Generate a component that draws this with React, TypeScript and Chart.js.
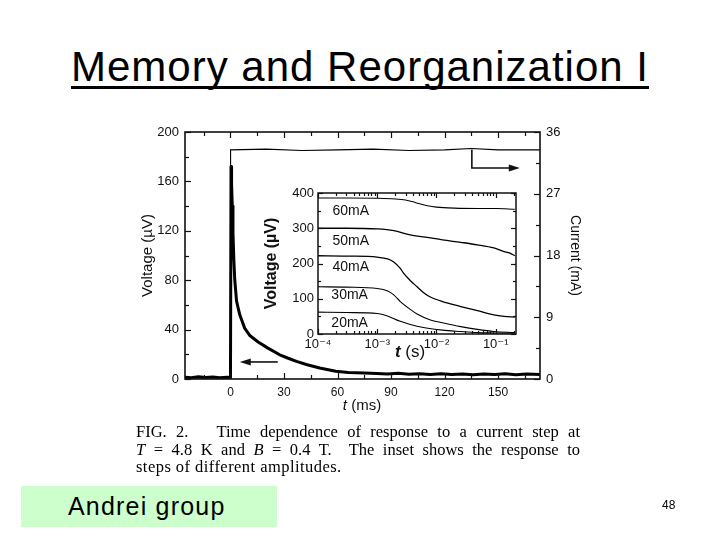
import React, { useEffect, useRef } from "react";
import { Chart, registerables } from "chart.js";

Chart.register(...registerables);

// ---------- main figure data ----------
const mainTimeMs = [
  -25.5, -22, -18, -14, -10, -6, -2, -0.2,
  0, 0.3, 0.6, 1.0, 1.4, 1.9, 2.4, 3.4, 5.2, 8, 11, 15.5, 21, 27.6, 32, 37, 43, 50, 59, 66, 75,
  82, 88, 94, 100, 106, 112, 118, 124, 130, 136, 142, 148, 154, 160, 166, 173.5,
];
const mainVoltageUV = [
  1.5, 1.0, 1.8, 1.2, 1.6, 1.0, 1.5, 1.2,
  1.5, 172, 158, 140, 118, 96, 80, 63, 52, 41, 35, 30, 25, 19.6, 17, 14.3, 11.5, 8.9, 6.2, 5.3, 4.8,
  4.4, 4.0, 4.6, 3.8, 4.3, 3.7, 4.2, 3.6, 4.1, 3.5, 4.0, 3.6, 4.2, 3.5, 4.0, 3.7,
];
const currentTimeMs = [-25.5, -0.1, 0, 0.1, 20, 40, 60, 80, 100, 120, 135, 150, 173.5];
const currentMA = [0, 0, 0, 33.4, 33.5, 33.3, 33.4, 33.5, 33.3, 33.4, 33.6, 33.4, 33.4];

const mainXMajor = [0, 30, 60, 90, 120, 150];
const mainXMinor = [-15, 15, 45, 75, 105, 135, 165];
const mainYMajor = [0, 40, 80, 120, 160, 200];
const mainYMinor = [20, 60, 100, 140, 180];
const mainY1Major = [0, 9, 18, 27, 36];
const mainY1Minor = [4.5, 13.5, 22.5, 31.5];

// ---------- inset data (t in seconds, V in µV) ----------
const t60 = [1e-4, 3e-4, 1e-3, 2e-3, 3e-3, 4e-3, 5e-3, 7e-3, 1e-2, 2e-2, 5e-2, 0.1, 0.21];
const v60 = [386, 386, 385, 383, 380, 375, 370, 364, 360, 357, 356, 356, 354];
const t50 = [1e-4, 3e-4, 1e-3, 1.9e-3, 3.6e-3, 6.5e-3, 1.26e-2, 2.57e-2, 4.9e-2, 9.3e-2, 1.38e-1, 1.7e-1, 2.1e-1];
const v50 = [300, 300, 298, 293, 281, 275, 267, 260, 253, 244, 234, 230, 222];
const t40 = [1e-4, 3e-4, 1e-3, 1.5e-3, 1.9e-3, 2.45e-3, 2.8e-3, 3.6e-3, 4.7e-3, 6e-3, 7.9e-3, 1.26e-2, 2.57e-2, 4.9e-2, 9.3e-2, 1.38e-1, 2.1e-1];
const v40 = [222, 221, 218, 213, 204, 186, 172, 152, 134, 118, 105, 92, 78, 66, 54, 50, 48];
const t30 = [1e-4, 3e-4, 1e-3, 1.5e-3, 1.9e-3, 2.45e-3, 3.6e-3, 4.7e-3, 7.9e-3, 1.26e-2, 2.57e-2, 4.9e-2, 9.3e-2, 2.1e-1];
const v30 = [134, 133, 129, 122, 111, 92, 70, 57, 40, 32, 21, 13, 7, 4];
const t20 = [1e-4, 3e-4, 1e-3, 1.45e-3, 2.45e-3, 4.7e-3, 1.26e-2, 2.57e-2, 4.9e-2, 9.3e-2, 2.1e-1];
const v20 = [62, 61, 58, 52, 36, 22, 11, 7, 4, 3, 2];

const insetSeriesNames = ["60mA", "50mA", "40mA", "30mA", "20mA"];
const insetXTicks = [1e-4, 1e-3, 1e-2, 1e-1];
const insetXTickLabels = ["10\u207B\u2074", "10\u207B\u00B3", "10\u207B\u00B2", "10\u207B\u00B9"];
const insetXMinor = [
  2e-4, 3e-4, 4e-4, 5e-4, 6e-4, 7e-4, 8e-4, 9e-4,
  2e-3, 3e-3, 4e-3, 5e-3, 6e-3, 7e-3, 8e-3, 9e-3,
  2e-2, 3e-2, 4e-2, 5e-2, 6e-2, 7e-2, 8e-2, 9e-2, 0.2,
];
const insetYMajor = [0, 100, 200, 300, 400];
const insetYMinor = [50, 150, 250, 350];

const FONT = "'Liberation Sans', Arial, 'DejaVu Sans', sans-serif";
const INK = "#111";

const zip = (xs: number[], ys: number[]) => xs.map((x, i) => ({ x, y: ys[i] }));

type TickSpec = { scale: string; side: "left" | "right" | "top" | "bottom"; major: number[]; minor: number[] };

function inwardTicks(specs: TickSpec[], majorLen: number, minorLen: number, frameWidth: number) {
  return {
    id: "inwardTicks",
    afterDatasetsDraw(chart: any) {
      const { ctx, chartArea: a } = chart;
      ctx.save();
      ctx.strokeStyle = INK;
      ctx.lineWidth = frameWidth;
      ctx.strokeRect(a.left, a.top, a.right - a.left, a.bottom - a.top);
      ctx.lineWidth = 1.2;
      for (const s of specs) {
        const sc = chart.scales[s.scale];
        const draw = (v: number, len: number) => {
          const p = Math.round(sc.getPixelForValue(v)) + 0.5;
          ctx.beginPath();
          if (s.side === "bottom") { ctx.moveTo(p, a.bottom); ctx.lineTo(p, a.bottom - len); }
          if (s.side === "top") { ctx.moveTo(p, a.top); ctx.lineTo(p, a.top + len); }
          if (s.side === "left") { ctx.moveTo(a.left, p); ctx.lineTo(a.left + len, p); }
          if (s.side === "right") { ctx.moveTo(a.right, p); ctx.lineTo(a.right - len, p); }
          ctx.stroke();
        };
        s.major.forEach((v) => draw(v, majorLen));
        s.minor.forEach((v) => draw(v, minorLen));
      }
      ctx.restore();
    },
  };
}

function arrowHead(ctx: CanvasRenderingContext2D, x: number, y: number, dir: number) {
  ctx.beginPath();
  ctx.moveTo(x, y);
  ctx.lineTo(x - dir * 11, y - 3.5);
  ctx.lineTo(x - dir * 11, y + 3.5);
  ctx.closePath();
  ctx.fill();
}

const mainArrows = {
  id: "mainArrows",
  afterDatasetsDraw(chart: any) {
    const { ctx } = chart;
    const x = chart.scales.x, y = chart.scales.y, y1 = chart.scales.y1;
    ctx.save();
    ctx.strokeStyle = INK;
    ctx.fillStyle = INK;
    ctx.lineWidth = 1.6;
    // arrow pointing to the voltage axis (left)
    const ly = y.getPixelForValue(13.8);
    const lx0 = x.getPixelForValue(26.5), lx1 = x.getPixelForValue(5.2);
    ctx.beginPath(); ctx.moveTo(lx0, ly); ctx.lineTo(lx1 + 8, ly); ctx.stroke();
    arrowHead(ctx, lx1, ly, -1);
    // arrow pointing to the current axis (right)
    const rx0 = x.getPixelForValue(135.3), rx1 = x.getPixelForValue(162.2);
    const ry0 = y1.getPixelForValue(33.4), ry1 = y1.getPixelForValue(30.75);
    ctx.beginPath(); ctx.moveTo(rx0, ry0); ctx.lineTo(rx0, ry1); ctx.lineTo(rx1 - 8, ry1); ctx.stroke();
    arrowHead(ctx, rx1, ry1, 1);
    ctx.restore();
  },
};

const insetLabelAt = [
  { x: 1.75e-4, y: 349 },
  { x: 1.75e-4, y: 264 },
  { x: 1.75e-4, y: 190 },
  { x: 1.68e-4, y: 111 },
  { x: 1.68e-4, y: 31 },
];

const insetLabels = {
  id: "insetLabels",
  afterDatasetsDraw(chart: any) {
    const { ctx } = chart;
    const x = chart.scales.x, y = chart.scales.y;
    ctx.save();
    ctx.fillStyle = INK;
    ctx.font = `14px ${FONT}`;
    ctx.textBaseline = "middle";
    ctx.textAlign = "left";
    insetSeriesNames.forEach((name, i) => {
      ctx.fillText(name, x.getPixelForValue(insetLabelAt[i].x), y.getPixelForValue(insetLabelAt[i].y));
    });
    ctx.restore();
  },
};

function MainChart() {
  const ref = useRef<HTMLCanvasElement>(null);
  useEffect(() => {
    const chart = new Chart(ref.current!, {
      type: "line",
      data: {
        datasets: [
          {
            data: zip(mainTimeMs, mainVoltageUV),
            yAxisID: "y",
            borderColor: "#000",
            borderWidth: 3,
            borderJoinStyle: "round",
            pointRadius: 0,
            tension: 0,
          },
          {
            data: zip(currentTimeMs, currentMA),
            yAxisID: "y1",
            borderColor: "#000",
            borderWidth: 1.1,
            pointRadius: 0,
            tension: 0,
          },
        ],
      },
      options: {
        animation: false,
        responsive: false,
        parsing: false,
        normalized: true,
        layout: { padding: { left: 135, right: 133, top: 132, bottom: 123 } },
        plugins: { legend: { display: false }, tooltip: { enabled: false } },
        scales: {
          x: {
            type: "linear",
            min: -25.5,
            max: 173.5,
            grid: { display: false, drawTicks: false },
            border: { display: false },
            ticks: { font: { size: 12, family: FONT }, color: INK, padding: 6, autoSkip: false, maxRotation: 0 },
            afterBuildTicks: (s: any) => { s.ticks = mainXMajor.map((v) => ({ value: v })); },
            afterFit: (s: any) => { s.height = 38; },
          },
          y: {
            position: "left",
            min: 0,
            max: 200,
            grid: { display: false, drawTicks: false },
            border: { display: false },
            ticks: { stepSize: 40, font: { size: 13, family: FONT }, color: INK, padding: 6 },
            title: { display: true, text: "Voltage (\u00B5V)", font: { size: 15, family: FONT }, color: INK, padding: { top: 4, bottom: 4 } },
            afterFit: (s: any) => { s.width = 50; },
          },
          y1: {
            position: "right",
            min: 0,
            max: 36,
            grid: { display: false, drawTicks: false },
            border: { display: false },
            ticks: { stepSize: 9, font: { size: 13, family: FONT }, color: INK, padding: 6 },
            title: { display: true, text: "Current (mA)", font: { size: 14, family: FONT }, color: INK, padding: { top: 4, bottom: 4 } },
            afterFit: (s: any) => { s.width = 47; },
          },
        },
      } as any,
      plugins: [
        inwardTicks(
          [
            { scale: "x", side: "bottom", major: mainXMajor, minor: mainXMinor },
            { scale: "x", side: "top", major: mainXMajor, minor: mainXMinor },
            { scale: "y", side: "left", major: mainYMajor, minor: mainYMinor },
            { scale: "y1", side: "right", major: mainY1Major, minor: mainY1Minor },
          ],
          6,
          4,
          1.6
        ),
        mainArrows,
      ],
    });
    return () => chart.destroy();
  }, []);
  return <canvas ref={ref} width={720} height={540} style={{ position: "absolute", left: 0, top: 0 }} />;
}

function InsetChart() {
  const ref = useRef<HTMLCanvasElement>(null);
  useEffect(() => {
    const series = [zip(t60, v60), zip(t50, v50), zip(t40, v40), zip(t30, v30), zip(t20, v20)];
    const chart = new Chart(ref.current!, {
      type: "line",
      data: {
        datasets: series.map((d, i) => ({
          data: d,
          borderColor: "#000",
          borderWidth: i === 1 || i === 2 ? 1.3 : 1.1,
          pointRadius: 0,
          tension: 0.35,
          cubicInterpolationMode: "monotone",
        })),
      },
      options: {
        animation: false,
        responsive: false,
        parsing: false,
        layout: { padding: { left: 8, right: 14, top: 13, bottom: 16 } },
        plugins: { legend: { display: false }, tooltip: { enabled: false } },
        scales: {
          x: {
            type: "logarithmic",
            min: 1e-4,
            max: 0.22,
            grid: { display: false, drawTicks: false },
            border: { display: false },
            ticks: {
              font: { size: 13, family: FONT },
              color: INK,
              padding: 3,
              autoSkip: false,
              maxRotation: 0,
              callback: (_v: any, i: number) => insetXTickLabels[i],
            },
            afterBuildTicks: (s: any) => { s.ticks = insetXTicks.map((v) => ({ value: v })); },
            afterFit: (s: any) => { s.height = 20; },
          },
          y: {
            min: 0,
            max: 400,
            grid: { display: false, drawTicks: false },
            border: { display: false },
            ticks: { stepSize: 100, font: { size: 13, family: FONT }, color: INK, padding: 4 },
            title: { display: true, text: "Voltage (\u00B5V)", font: { size: 16, family: FONT, weight: "bold" }, color: INK, padding: { top: 4, bottom: 4 } },
            afterFit: (s: any) => { s.width = 60; },
          },
        },
      } as any,
      plugins: [
        inwardTicks(
          [
            { scale: "x", side: "bottom", major: insetXTicks, minor: insetXMinor },
            { scale: "x", side: "top", major: insetXTicks, minor: insetXMinor },
            { scale: "y", side: "left", major: insetYMajor, minor: insetYMinor },
            { scale: "y", side: "right", major: insetYMajor, minor: insetYMinor },
          ],
          5,
          3,
          1.5
        ),
        insetLabels,
      ],
    });
    return () => chart.destroy();
  }, []);
  return <canvas ref={ref} width={280} height={190} style={{ position: "absolute", left: 250, top: 180 }} />;
}

export default function App() {
  const abs = (s: React.CSSProperties): React.CSSProperties => ({ position: "absolute", ...s });
  return (
    <div style={{ position: "fixed", left: 0, top: 0, width: 720, height: 540, background: "#fff", overflow: "hidden", color: INK }}>
      <div
        style={abs({
          left: 0,
          top: 43,
          width: 720,
          textAlign: "center",
          fontFamily: FONT,
          fontSize: 42,
          lineHeight: "48px",
          letterSpacing: 1,
          textDecoration: "underline",
          textDecorationThickness: 3,
          textUnderlineOffset: 5,
          textDecorationSkipInk: "none",
          color: "#000",
        } as any)}
      >
        Memory and Reorganization I
      </div>

      <MainChart />
      <InsetChart />

      <div style={abs({ left: 312, top: 396, width: 100, textAlign: "center", fontFamily: FONT, fontSize: 15, lineHeight: "18px" })}>
        <i>t</i> (ms)
      </div>
      <div style={abs({ left: 360, top: 342, width: 100, textAlign: "center", fontFamily: FONT, fontSize: 17, lineHeight: "20px" })}>
        <i style={{ fontWeight: "bold" }}>t</i> (s)
      </div>

      <div
        style={abs({
          left: 136,
          top: 423,
          width: 444,
          fontFamily: "'Liberation Serif', 'Times New Roman', serif",
          fontSize: 16.5,
          lineHeight: "17.5px",
          color: "#000",
        })}
      >
        <div style={{ textAlign: "justify", textAlignLast: "justify", whiteSpace: "nowrap" }}>
          FIG. 2.&nbsp;&nbsp;&nbsp;Time dependence of response to a current step at
        </div>
        <div style={{ textAlign: "justify", textAlignLast: "justify", whiteSpace: "nowrap" }}>
          <i>T</i> = 4.8 K and <i>B</i> = 0.4 T.&nbsp;&nbsp;The inset shows the response to
        </div>
        <div style={{ letterSpacing: 0.45, whiteSpace: "nowrap" }}>steps of different amplitudes.</div>
      </div>

      <div style={abs({ left: 21, top: 486, width: 256, height: 41, background: "#ccffcc" })}>
        <div style={{ paddingLeft: 47, fontFamily: FONT, fontSize: 25, lineHeight: "41px", letterSpacing: 1.2, color: "#000", whiteSpace: "nowrap" }}>
          Andrei group
        </div>
      </div>

      <div style={abs({ left: 662, top: 498, fontFamily: FONT, fontSize: 12, lineHeight: "14px", color: "#000" })}>48</div>
    </div>
  );
}
